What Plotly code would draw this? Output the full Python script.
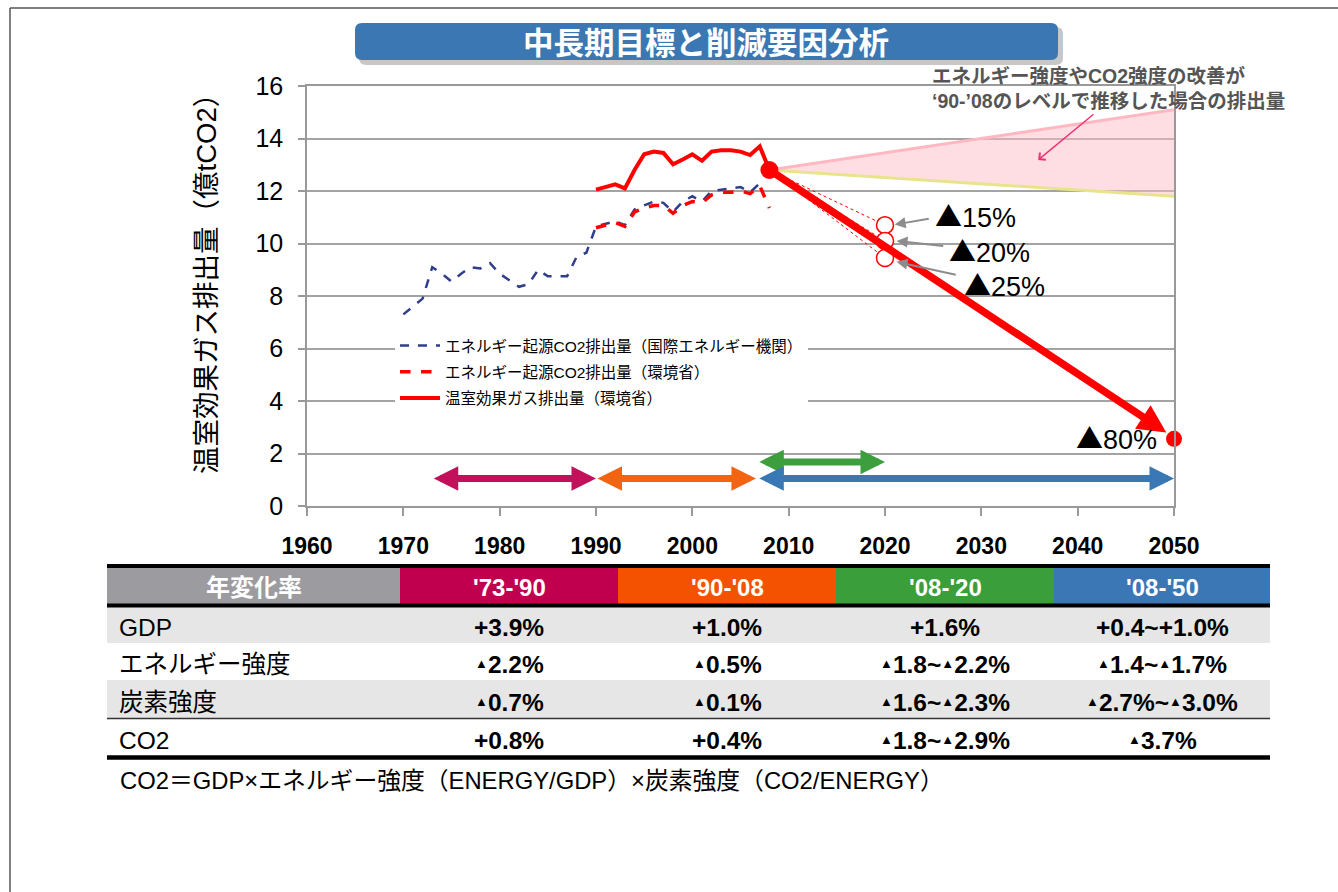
import plotly.graph_objects as go

W, H = 1338, 892
FONT = "Liberation Sans, Arial, Noto Sans CJK JP, sans-serif"
JFONT = "Noto Sans CJK JP, sans-serif"

# ---------------- data ----------------
iea_years = list(range(1970, 2008))
iea_co2 = [7.3, 7.6, 7.9, 9.1, 8.85, 8.55, 8.85, 9.1, 9.05, 9.25, 8.85, 8.6, 8.35,
           8.45, 9.0, 8.75, 8.75, 8.75, 9.5, 9.65, 10.65, 10.75, 10.85, 10.7, 11.3,
           11.45, 11.6, 11.55, 11.2, 11.6, 11.8, 11.6, 12.0, 12.05, 12.1, 12.15, 11.95, 12.3]

moe_years = list(range(1990, 2009))
moe_co2 = [10.6, 10.7, 10.8, 10.65, 11.2, 11.35, 11.45, 11.45, 11.15, 11.45, 11.6,
           11.55, 11.85, 11.95, 11.95, 12.0, 11.9, 12.2, 11.35]
moe_ghg = [12.05, 12.15, 12.25, 12.1, 12.8, 13.4, 13.5, 13.45, 13.02, 13.2, 13.4,
           13.15, 13.5, 13.55, 13.55, 13.5, 13.37, 13.7, 12.8]

legend_names = ["エネルギー起源CO2排出量（国際エネルギー機関）",
                "エネルギー起源CO2排出量（環境省）",
                "温室効果ガス排出量（環境省）"]

base_year, base_value = 2008, 12.8
target_year, target_value = 2050, 2.56
fan_years = [2008, 2050]
fan_upper = [12.8, 15.1]
fan_lower = [12.8, 11.8]

mid_year = 2020
mid_values = [10.7, 10.1, 9.45]
mid_labels = ["▲15%", "▲20%", "▲25%"]
target_label = "▲80%"

# period arrows: start, end, level, colour
per_start = [1973.0, 1990.0, 2006.8, 2006.8]
per_end = [1990.0, 2006.6, 2020.0, 2050.0]
per_level = [1.05, 1.05, 1.68, 1.05]
per_color = ["#C3105A", "#F26412", "#3C9E3C", "#3A78B5"]

# table
table_head = ["年変化率", "'73-'90", "'90-'08", "'08-'20", "'08-'50"]
head_colors = ["#9B9BA0", "#C0004F", "#F55200", "#3A9E3B", "#3A77B4"]
row_labels = ["GDP", "エネルギー強度", "炭素強度", "CO2"]
col_73_90 = ["+3.9%", "▲2.2%", "▲0.7%", "+0.8%"]
col_90_08 = ["+1.0%", "▲0.5%", "▲0.1%", "+0.4%"]
col_08_20 = ["+1.6%", "▲1.8~▲2.2%", "▲1.6~▲2.3%", "▲1.8~▲2.9%"]
col_08_50 = ["+0.4~+1.0%", "▲1.4~▲1.7%", "▲2.7%~▲3.0%", "▲3.7%"]
row_fill = ["#E6E6E6", "#FFFFFF", "#E6E6E6", "#FFFFFF"]

title_text = "中長期目標と削減要因分析"
ytitle = "温室効果ガス排出量（億tCO2）"
note_lines = ["エネルギー強度やCO2強度の改善が", "‘90-’08のレベルで推移した場合の排出量"]
formula = "CO2＝GDP×エネルギー強度（ENERGY/GDP）×炭素強度（CO2/ENERGY）"


def px(x):
    return x / W


def py(y):
    return 1 - y / H


def big_tri(s):
    return s.replace("▲", '<span style="font-family:Noto Sans CJK JP">▲</span>')


fig = go.Figure()

# fan area
fig.add_trace(go.Scatter(x=fan_years, y=fan_lower, mode="lines",
                         line=dict(color="#E8E48C", width=3), showlegend=False,
                         hoverinfo="skip"))
fig.add_trace(go.Scatter(x=fan_years, y=fan_upper, mode="lines", fill="tonexty",
                         fillcolor="rgba(255,190,200,0.5)",
                         line=dict(color="#FFB8C2", width=3), showlegend=False,
                         hoverinfo="skip"))

# thin dashed lines to 2020 targets
for v in mid_values:
    fig.add_trace(go.Scatter(x=[base_year, mid_year], y=[base_value, v], mode="lines",
                             line=dict(color="#FF0000", width=1, dash="dot"),
                             showlegend=False, hoverinfo="skip"))

# series
fig.add_trace(go.Scatter(x=iea_years, y=iea_co2, mode="lines", name=legend_names[0],
                         legendgroup="a",
                         line=dict(color="#2F3F8C", width=2.5, dash="dash")))
fig.add_trace(go.Scatter(x=moe_years, y=moe_co2, mode="lines", name=legend_names[1],
                         legendgroup="b",
                         line=dict(color="#FF0000", width=3.5, dash="dash")))
fig.add_trace(go.Scatter(x=moe_years, y=moe_ghg, mode="lines", name=legend_names[2],
                         legendgroup="c",
                         line=dict(color="#FF0000", width=4)))

# 2020 circles
fig.add_trace(go.Scatter(x=[mid_year] * len(mid_values), y=mid_values, mode="markers",
                         marker=dict(symbol="circle", size=17, color="white", opacity=1,
                                     line=dict(color="#FF0000", width=1.5)),
                         showlegend=False, hoverinfo="skip", cliponaxis=False))
# base & target dots
fig.add_trace(go.Scatter(x=[base_year, target_year], y=[base_value, target_value],
                         mode="markers",
                         marker=dict(size=[18, 16], color="#FF0000", opacity=1,
                                     line=dict(width=0)),
                         showlegend=False, hoverinfo="skip", cliponaxis=False))

ann = []
# big reduction arrow
ann.append(dict(x=2049.2, y=2.8, ax=base_year, ay=base_value, xref="x", yref="y",
                axref="x", ayref="y", showarrow=True, arrowhead=2, arrowsize=0.75,
                arrowwidth=7.5, arrowcolor="#FF0000", text=""))
# period arrows
for s, e, lv, c in zip(per_start, per_end, per_level, per_color):
    ann.append(dict(x=e, y=lv, ax=s, ay=lv, xref="x", yref="y", axref="x", ayref="y",
                    showarrow=True, arrowhead=2, arrowsize=0.7, arrowwidth=7,
                    arrowside="end+start", arrowcolor=c, text=""))

# labels for 2020 targets
lab_x = [2025.0, 2026.4, 2028.0]
lab_y = [11.05, 9.75, 8.45]
arr_from = [(2024.7, 10.95), (2026.2, 9.9), (2027.5, 8.8)]
arr_to = [(2021.0, 10.72), (2021.2, 10.1), (2021.2, 9.3)]
for t, lx, ly, f, to in zip(mid_labels, lab_x, lab_y, arr_from, arr_to):
    ann.append(dict(x=lx, y=ly, xref="x", yref="y", text=big_tri(t), showarrow=False,
                    xanchor="left", yanchor="middle",
                    font=dict(family=FONT, size=27, color="black")))
    ann.append(dict(x=to[0], y=to[1], ax=f[0], ay=f[1], xref="x", yref="y",
                    axref="x", ayref="y", showarrow=True, arrowhead=2, arrowsize=1.1,
                    arrowwidth=2, arrowcolor="#8C8C8C", text=""))
ann.append(dict(x=2048.4, y=2.62, xref="x", yref="y", text=big_tri(target_label),
                showarrow=False, xanchor="right", yanchor="middle",
                font=dict(family=FONT, size=27, color="black")))

# note text & pink arrow
for i, line in enumerate(note_lines):
    ann.append(dict(x=px(930), y=py(76 + i * 25), xref="paper", yref="paper",
                    text="<b>" + line + "</b>", showarrow=False, xanchor="left",
                    yanchor="middle", font=dict(family=FONT, size=19.5, color="#555555")))
ann.append(dict(x=2035.9, y=13.18, ax=2041.8, ay=14.97, xref="x", yref="y",
                axref="x", ayref="y", showarrow=True, arrowhead=4, arrowsize=1.2,
                arrowwidth=1.5, arrowcolor="#EE3377", text=""))

# title
ann.append(dict(x=px(706), y=py(41), xref="paper", yref="paper",
                text="<b>" + title_text + "</b>", showarrow=False,
                xanchor="center", yanchor="middle",
                font=dict(family=JFONT, size=30.5, color="white")))

# y-axis title
ann.append(dict(x=px(206), y=py(277), xref="paper", yref="paper", text=ytitle,
                textangle=-90, showarrow=False, xanchor="center", yanchor="middle",
                font=dict(family=FONT, size=27.5, color="black")))

# formula
ann.append(dict(x=px(118), y=py(780), xref="paper", yref="paper", text=formula,
                showarrow=False, xanchor="left", yanchor="middle",
                font=dict(family=FONT, size=23.8, color="black")))


def rounded(x0, y0, x1, y1, r):
    return (f"M {px(x0 + r)},{py(y0)} L {px(x1 - r)},{py(y0)} "
            f"Q {px(x1)},{py(y0)} {px(x1)},{py(y0 + r)} L {px(x1)},{py(y1 - r)} "
            f"Q {px(x1)},{py(y1)} {px(x1 - r)},{py(y1)} L {px(x0 + r)},{py(y1)} "
            f"Q {px(x0)},{py(y1)} {px(x0)},{py(y1 - r)} L {px(x0)},{py(y0 + r)} "
            f"Q {px(x0)},{py(y0)} {px(x0 + r)},{py(y0)} Z")


shapes = [
    dict(type="path", path=rounded(359, 27, 1063, 65, 7), xref="paper", yref="paper",
         fillcolor="rgba(0,0,0,0.22)", line=dict(width=0), layer="below"),
    dict(type="path", path=rounded(355, 23, 1058, 60, 7), xref="paper", yref="paper",
         fillcolor="#3B77B3", line=dict(width=0), layer="below"),
    # frame
    dict(type="line", x0=px(10), x1=1, y0=py(8), y1=py(8), xref="paper", yref="paper",
         line=dict(color="#555555", width=1.5)),
    dict(type="line", x0=px(10), x1=px(10), y0=py(8), y1=0, xref="paper", yref="paper",
         line=dict(color="#555555", width=1.5)),
]

# ---------------- table (paper-positioned cells) ----------------
col_edges = [107, 400, 618, 836, 1054, 1270]
head_top, head_bot = 568, 604
row_edges = [607, 643, 680, 718.5, 757]
row_text_y = [627, 664, 702, 740]


def small_tri(s):
    return s.replace("▲", '<span style="font-size:13px;baseline-shift:5px">▲</span>')


for j, (h, c) in enumerate(zip(table_head, head_colors)):
    x0, x1 = col_edges[j], col_edges[j + 1]
    shapes.append(dict(type="rect", x0=px(x0), x1=px(x1), y0=py(head_bot),
                       y1=py(head_top), xref="paper", yref="paper", fillcolor=c,
                       line=dict(width=0), layer="below"))
    ann.append(dict(x=px((x0 + x1) / 2), y=py(587), xref="paper", yref="paper",
                    text="<b>" + h + "</b>", showarrow=False, xanchor="center",
                    yanchor="middle", font=dict(family=FONT, size=24, color="white")))

cols = [col_73_90, col_90_08, col_08_20, col_08_50]
for i, (lab, fc) in enumerate(zip(row_labels, row_fill)):
    shapes.append(dict(type="rect", x0=px(col_edges[0]), x1=px(col_edges[-1]),
                       y0=py(row_edges[i + 1]), y1=py(row_edges[i]), xref="paper",
                       yref="paper", fillcolor=fc, line=dict(width=0), layer="below"))
    ann.append(dict(x=px(117), y=py(row_text_y[i]), xref="paper", yref="paper",
                    text=lab, showarrow=False, xanchor="left", yanchor="middle",
                    font=dict(family=FONT, size=24.5, color="black")))
    for j, col in enumerate(cols):
        x0, x1 = col_edges[j + 1], col_edges[j + 2]
        ann.append(dict(x=px((x0 + x1) / 2), y=py(row_text_y[i]), xref="paper",
                        yref="paper", text="<b>" + small_tri(col[i]) + "</b>",
                        showarrow=False, xanchor="center", yanchor="middle",
                        font=dict(family=FONT, size=24.5, color="black")))

for yy, wdt, col in [(566, 4, "black"), (605.5, 4, "black"), (718.5, 1.5, "#333333"),
                     (757.5, 4.5, "black")]:
    shapes.append(dict(type="line", x0=px(107), x1=px(1270), y0=py(yy), y1=py(yy),
                       xref="paper", yref="paper", line=dict(color=col, width=wdt),
                       layer="above"))

fig.update_layout(
    width=W, height=H, margin=dict(l=0, r=0, t=0, b=0, autoexpand=False),
    paper_bgcolor="white", plot_bgcolor="white",
    xaxis=dict(domain=[px(307), px(1174)], range=[1960, 2050],
               tickvals=list(range(1960, 2051, 10)), ticks="outside", ticklen=8,
               tickcolor="#999999", tickwidth=1.5, showline=True, linecolor="#999999",
               linewidth=1.5, mirror=True, showgrid=False, zeroline=False,
               ticklabelstandoff=11, automargin=False,
               tickfont=dict(family=FONT, size=23, color="black", weight="bold")),
    yaxis=dict(domain=[py(506), py(86)], range=[0, 16], dtick=2, ticks="outside",
               ticklen=7, tickcolor="#999999", tickwidth=1.5, showline=True,
               linecolor="#999999", linewidth=1.5, mirror=True, showgrid=True,
               gridcolor="#A3A3A3", gridwidth=1.5, zeroline=False,
               ticklabelstandoff=10, automargin=False,
               tickfont=dict(family=FONT, size=25, color="black")),
    legend=dict(x=px(395), y=py(329), xanchor="left", yanchor="top",
                bgcolor="white", font=dict(family=FONT, size=15.5, color="black"),
                tracegroupgap=3, itemwidth=40, traceorder="grouped"),
    annotations=ann, shapes=shapes,
)

fig.write_html("out.html")
